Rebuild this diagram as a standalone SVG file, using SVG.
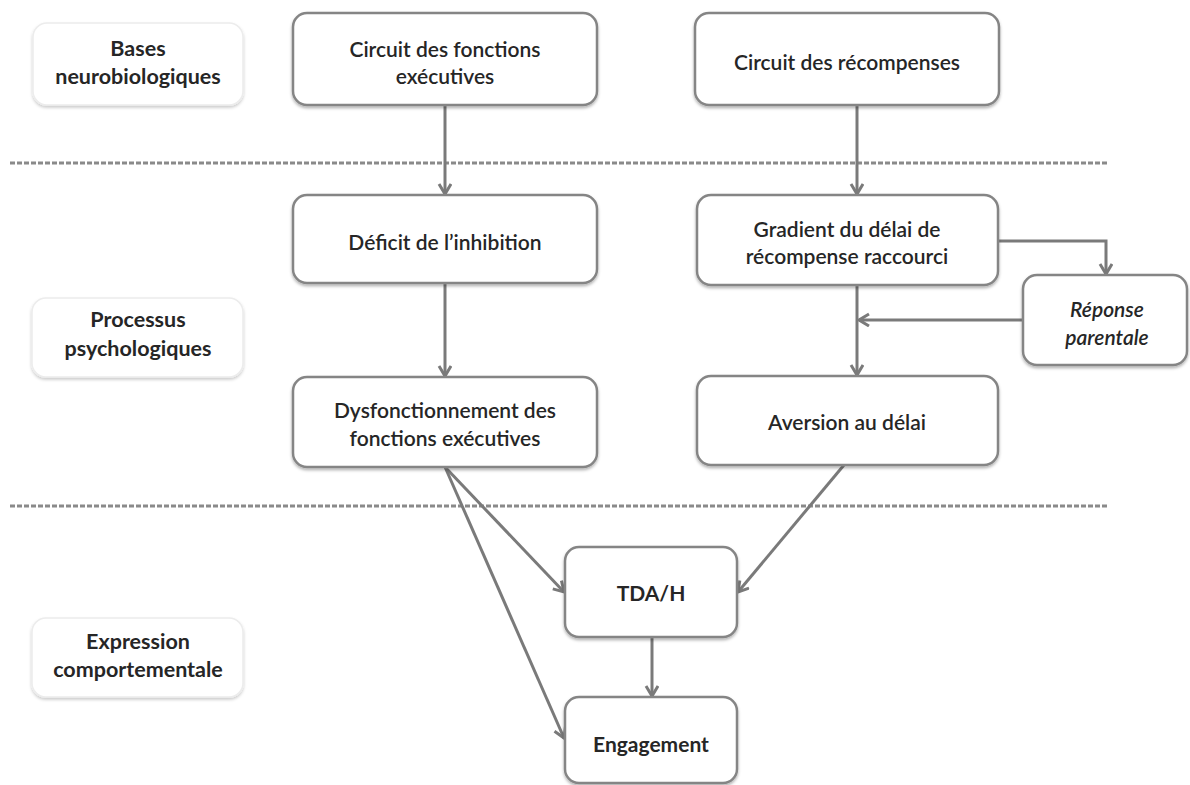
<svg xmlns="http://www.w3.org/2000/svg" width="1190" height="785" viewBox="0 0 1190 785">
<style>
.box{fill:#fff;stroke:#858585;stroke-width:2.5;filter:url(#sh)}
.lab{fill:#fff;stroke:#ececec;stroke-width:1.5;filter:url(#sh2)}
.t{font-family:Lato,"Open Sans","Liberation Sans",sans-serif;font-size:21px;fill:#262626;text-anchor:middle;font-weight:600}
.tb{font-weight:bold}
.tl{font-size:21.5px}
.ti{font-style:italic}
.c{fill:none;stroke:#7a7a7a;stroke-width:3}
.dash{fill:none;stroke:#8a8a8a;stroke-width:3;stroke-dasharray:5 2}
</style>
<defs>
<filter id="sh" x="-10%" y="-10%" width="120%" height="130%">
<feDropShadow dx="0" dy="2" stdDeviation="1.5" flood-color="#000" flood-opacity="0.3"/>
</filter>
<filter id="sh2" x="-10%" y="-10%" width="120%" height="130%">
<feDropShadow dx="0" dy="2" stdDeviation="1.5" flood-color="#000" flood-opacity="0.2"/>
</filter>
<marker id="ah" markerUnits="userSpaceOnUse" markerWidth="16" markerHeight="16" refX="12" refY="7" orient="auto">
<path d="M2,1 L12,7 L2,13" fill="none" stroke="#7a7a7a" stroke-width="3"/>
</marker>
</defs>
<rect width="1190" height="785" fill="#fff"/>
<g id="separators">
<line class="dash" x1="10" y1="163" x2="1108" y2="163"/>
<line class="dash" x1="10" y1="506" x2="1108" y2="506"/>
</g>
<g id="label-bases"><rect class="lab" x="33" y="23" width="210" height="82" rx="14"/>
<text class="t tb tl" x="138" y="56">Bases</text><text class="t tb tl" x="138" y="84">neurobiologiques</text></g>
<g id="label-processus"><rect class="lab" x="32" y="298" width="211" height="79" rx="14"/>
<text class="t tb tl" x="138" y="327">Processus</text><text class="t tb tl" x="138" y="356">psychologiques</text></g>
<g id="label-expression"><rect class="lab" x="32" y="618" width="211" height="79" rx="14"/>
<text class="t tb tl" x="138" y="649">Expression</text><text class="t tb tl" x="138" y="677">comportementale</text></g>
<g id="connectors">
<line class="c" x1="445" y1="105" x2="445" y2="194" marker-end="url(#ah)"/>
<line class="c" x1="445" y1="283" x2="445" y2="376" marker-end="url(#ah)"/>
<line class="c" x1="857" y1="105" x2="857" y2="194" marker-end="url(#ah)"/>
<line class="c" x1="857" y1="285" x2="857" y2="375" marker-end="url(#ah)"/>
<polyline class="c" points="998,241 1106,241 1106,274" marker-end="url(#ah)"/>
<line class="c" x1="1023" y1="320" x2="859" y2="320" marker-end="url(#ah)"/>
<line class="c" x1="445" y1="467" x2="564" y2="592" marker-end="url(#ah)"/>
<line class="c" x1="445" y1="467" x2="564" y2="738" marker-end="url(#ah)"/>
<line class="c" x1="844" y1="465" x2="738" y2="592" marker-end="url(#ah)"/>
<line class="c" x1="652" y1="637" x2="652" y2="696" marker-end="url(#ah)"/>
</g>
<g id="circuit-fe"><rect class="box" x="293" y="13" width="304" height="92" rx="14"/>
<text class="t" x="445" y="57">Circuit des fonctions</text><text class="t" x="445" y="84">exécutives</text></g>
<g id="circuit-rec"><rect class="box" x="695" y="13" width="304" height="92" rx="14"/>
<text class="t" x="847" y="70">Circuit des récompenses</text></g>
<g id="deficit"><rect class="box" x="293" y="195" width="304" height="88" rx="14"/>
<text class="t" x="445" y="250">Déficit de l’inhibition</text></g>
<g id="gradient"><rect class="box" x="697" y="195" width="301" height="90" rx="14"/>
<text class="t" x="847" y="237">Gradient du délai de</text><text class="t" x="847" y="264">récompense raccourci</text></g>
<g id="reponse"><rect class="box" x="1023" y="275" width="164" height="90" rx="14"/>
<text class="t ti" x="1107" y="317">Réponse</text><text class="t ti" x="1107" y="345">parentale</text></g>
<g id="dysf"><rect class="box" x="293" y="377" width="304" height="90" rx="14"/>
<text class="t" x="445" y="418">Dysfonctionnement des</text><text class="t" x="445" y="446">fonctions exécutives</text></g>
<g id="aversion"><rect class="box" x="697" y="376" width="301" height="89" rx="14"/>
<text class="t" x="847" y="430">Aversion au délai</text></g>
<g id="tdah"><rect class="box" x="565" y="547" width="172" height="90" rx="14"/>
<text class="t tb" x="651" y="601">TDA/H</text></g>
<g id="engagement"><rect class="box" x="565" y="697" width="172" height="86" rx="14"/>
<text class="t tb" x="651" y="752">Engagement</text></g>
</svg>
